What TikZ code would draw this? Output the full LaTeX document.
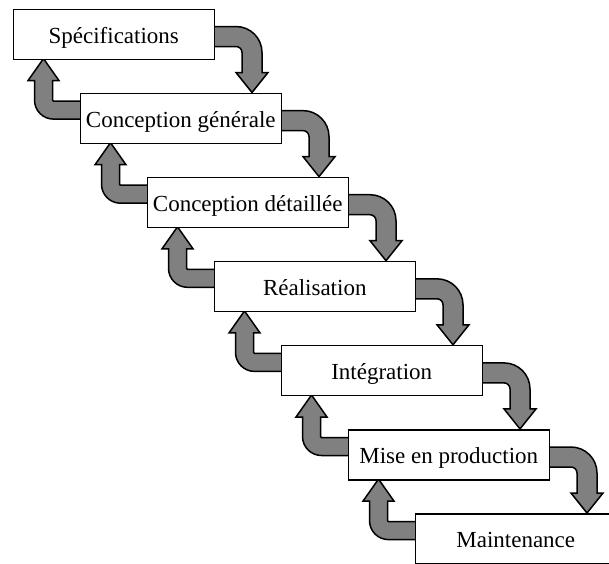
\documentclass[tikz,border=0pt]{standalone}
\usepackage{fontspec}
\setmainfont{Liberation Serif}
\usetikzlibrary{calc}
\pgfdeclarelayer{background}
\pgfsetlayers{background,main}
\definecolor{arrowgray}{RGB}{128,128,128}
\tikzset{
  phase/.style={draw=black, line width=1.5pt, fill=white, rectangle,
    minimum width=201pt, minimum height=50pt, inner sep=0pt, anchor=north west,
    text height=18pt, text depth=0pt,
    font=\fontsize{23pt}{27pt}\selectfont},
  bentarrow/.style={draw=black, line width=1.5pt, fill=arrowgray, line join=miter}
}
% forward arrow: from the right side of #1 down onto the top of the next box
\newcommand\fwdarrow[1]{%
  \path[bentarrow] ([shift={(-2pt,-18pt)}]#1.north east)
    -- ++(23pt,0pt) arc[start angle=90,end angle=0,radius=26pt]
    -- ++(0pt,-20pt) -- ++(6pt,0pt) -- ++(-16pt,-20pt) -- ++(-16pt,20pt)
    -- ++(6pt,0pt) -- ++(0pt,20pt) arc[start angle=0,end angle=90,radius=6pt]
    -- ++(-23pt,0pt) -- cycle;}
% backward arrow: from the left side of #1 up onto the bottom of the previous box
\newcommand\bckarrow[1]{%
  \path[bentarrow] ([shift={(2pt,-26.5pt)}]#1.north west)
    -- ++(-28pt,0pt) arc[start angle=270,end angle=180,radius=19pt]
    -- ++(0pt,19.5pt) -- ++(-6.5pt,0pt) -- ++(15.5pt,22pt) -- ++(15.5pt,-22pt)
    -- ++(-6.5pt,0pt) -- ++(0pt,-19.5pt) arc[start angle=180,end angle=270,radius=1pt]
    -- ++(28pt,0pt) -- cycle;}
\begin{document}
\begin{tikzpicture}[x=1pt,y=1pt]
  \useasboundingbox (0,0) rectangle (609,-563);
  \clip (0,0) rectangle (609,-563);
  \node[phase] (b1) at (12.5,-8.5)   {Spécifications};
  \node[phase] (b2) at (79.5,-92.6)  {Conception générale};
  \node[phase] (b3) at (146.5,-176.7) {Conception détaillée};
  \node[phase] (b4) at (213.5,-260.8) {Réalisation};
  \node[phase] (b5) at (280.5,-344.9) {Intégration};
  \node[phase] (b6) at (347.5,-429.0) {Mise en production};
  \node[phase] (b7) at (414.5,-513.1) {Maintenance};
  \begin{pgfonlayer}{background}
    \fwdarrow{b1} \fwdarrow{b2} \fwdarrow{b3}
    \fwdarrow{b4} \fwdarrow{b5} \fwdarrow{b6}
    \bckarrow{b2} \bckarrow{b3} \bckarrow{b4}
    \bckarrow{b5} \bckarrow{b6} \bckarrow{b7}
  \end{pgfonlayer}
\end{tikzpicture}
\end{document}
